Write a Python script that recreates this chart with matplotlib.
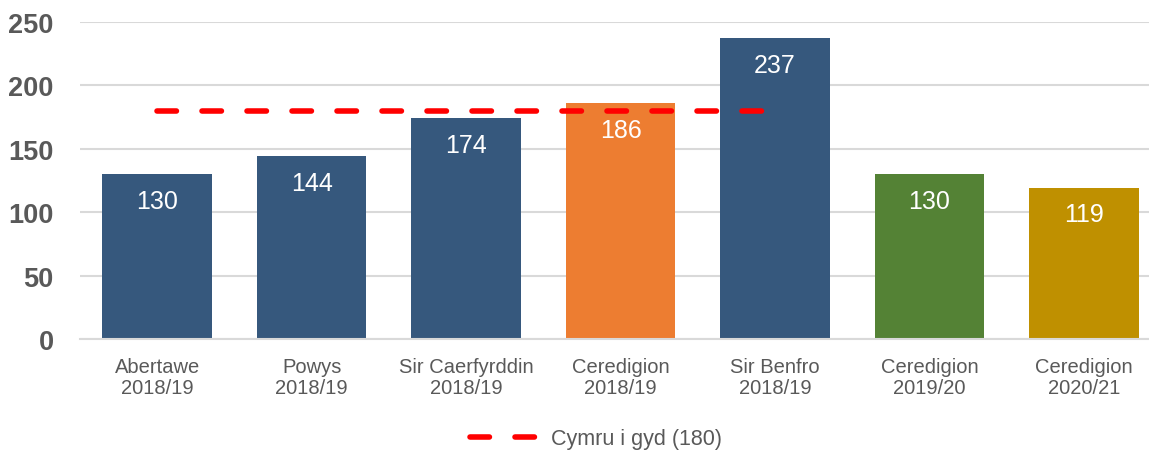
import numpy as np
import matplotlib.pyplot as plt

# Werte je Kategorie
regionen = ['Abertawe', 'Powys', 'Sir Caerfyrddin', 'Ceredigion', 'Sir Benfro',
            'Ceredigion', 'Ceredigion']
jahre = ['2018/19', '2018/19', '2018/19', '2018/19', '2018/19', '2019/20', '2020/21']
werte = [130, 144, 174, 186, 237, 130, 119]
farben = ['#36587D', '#36587D', '#36587D', '#ED7D31', '#36587D', '#548235', '#BF9000']

# Durchschnitt Wales, als Linie ueber die ersten fuenf Kategorien
cymru_wert = 180
cymru_bis = 4

fig = plt.figure(figsize=(11.49, 4.52), dpi=100)
ax = fig.add_axes([80/1149, 112/452, 1081/1149, 317/452])

x = np.arange(len(werte))
bars = ax.bar(x, werte, width=0.71, color=farben, zorder=2)

for xi, w in zip(x, werte):
    ax.annotate(str(w), (xi, w), xytext=(0, -19), textcoords='offset points',
                ha='center', va='center', color='white', fontsize=18,
                family='Liberation Sans', zorder=4)

xl = np.arange(cymru_bis + 1)
ax.plot(xl, np.full(len(xl), cymru_wert), color='#FF0000', lw=4,
        dashes=(3.5, 4.6), dash_capstyle='round', zorder=3,
        label=f'Cymru i gyd ({cymru_wert})')

ax.set_xlim(-0.5, len(werte) - 0.5)
ax.set_ylim(0, 250)
ax.set_yticks(np.arange(0, 251, 50))
ax.yaxis.grid(True, color='#D9D9D9', lw=1.5, zorder=0)
ax.set_axisbelow(True)
for s in ['top', 'right', 'left']:
    ax.spines[s].set_visible(False)
ax.spines['bottom'].set_color('#D9D9D9')
ax.spines['bottom'].set_linewidth(1.5)

ax.set_xticks(x)
ax.set_xticklabels([f'{r}\n{j}' for r, j in zip(regionen, jahre)],
                   fontsize=14.5, color='#595959', family='Liberation Sans',
                   linespacing=1.1)
ax.tick_params(axis='x', length=0, pad=13)
ax.tick_params(axis='y', length=0, pad=19)
for lab in ax.get_yticklabels():
    lab.set_fontsize(19.5)
    lab.set_fontweight('bold')
    lab.set_color('#595959')
    lab.set_family('Liberation Sans')

leg = fig.legend(loc='center', bbox_to_anchor=(596/1149, 1 - 440/452),
                 frameon=False, handlelength=3.4, handletextpad=0.4,
                 prop={'family': 'Liberation Sans', 'size': 15.5})
for t in leg.get_texts():
    t.set_color('#595959')

plt.savefig('out.png', dpi=100)
